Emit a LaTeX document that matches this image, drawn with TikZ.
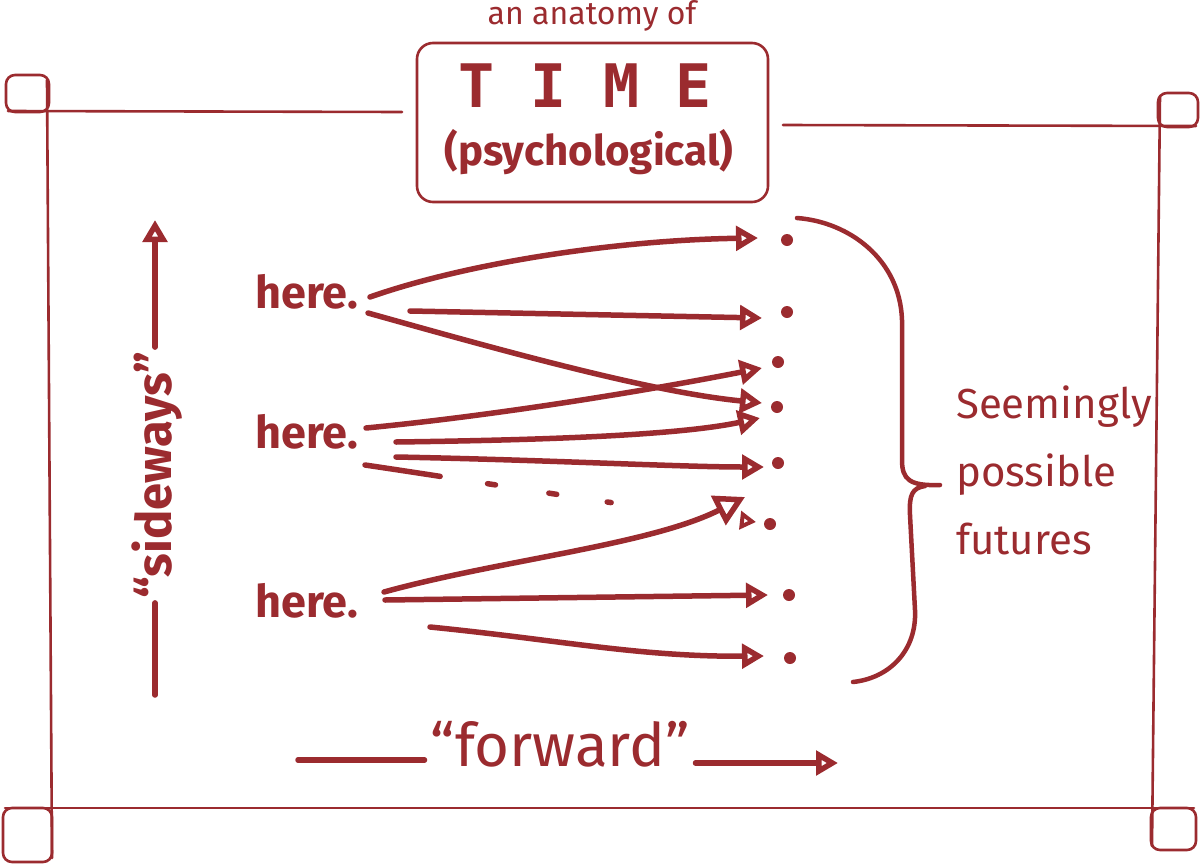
\documentclass[tikz,border=0pt]{standalone}
\usepackage{fontspec}
\setmainfont{Fira Sans}
\newfontfamily\markerfont{DejaVu Sans Mono}
\usetikzlibrary{arrows.meta}
\definecolor{ink}{HTML}{9B2B2F}
\tikzset{line/.style={ink, line width=5.5pt, line cap=round, line join=round}}
\tikzset{arr/.style={line, -{Triangle[open, length=22pt, width=24pt]}}}
\tikzset{border/.style={ink, line width=2.6pt, line cap=round}}
\tikzset{loopbox/.style={border, rounded corners=9pt}}
\tikzset{titlebox/.style={draw=ink, line width=2.6pt, rounded corners=16pt}}
\tikzset{here/.style={
   ink, anchor=base west, inner sep=0pt,
   font=\fontsize{45}{50}\selectfont\bfseries
}}
\tikzset{fut/.style={circle, fill=ink, inner sep=0pt, minimum size=12pt}}

\begin{document}
\begin{tikzpicture}[x=1pt, y=-1pt]
    \useasboundingbox (0,0) rectangle (1200,865);

    % frame with curled corners
    \draw[loopbox] (6,75) rectangle (49,112);
    \draw[loopbox] (1158,93) rectangle (1198,127);
    \draw[loopbox] (3,808) rectangle (52,862);
    \draw[loopbox] (1151,808) rectangle (1196,850);
    \draw[border] (47,80) -- (52,858);
    \draw[border] (8,111) -- (402,112);
    \draw[border] (783,125) -- (1196,126);
    \draw[border] (1160,96) -- (1152,846);
    \draw[border] (5,808) -- (1194,808);

    % title
    \node[ink, font=\fontsize{32}{36}\selectfont] (anat) at (592,16) {an anatomy of};
    \node[titlebox, minimum width=351pt, minimum height=159pt] (box) at (592.5,122.5) {};
    \node[ink, font=\markerfont\bfseries\fontsize{60}{60}\selectfont] (time) at (585,86) {T I M E};
    \node[ink, font=\fontsize{42}{46}\selectfont\bfseries] (psych) at (589,152) {(psychological)};

    % here
    \node[here] (here1) at (255,308) {here.};
    \node[here] (here2) at (255,448) {here.};
    \node[here] (here3) at (255,617) {here.};

    % futures
    \node[fut] (f1) at (787,240) {};
    \node[fut] (f2) at (787,312) {};
    \node[fut] (f3) at (778,362) {};
    \node[fut] (f4) at (777,407) {};
    \node[fut] (f5) at (778,463) {};
    \node[fut] (f6) at (770,524) {};
    \node[fut] (f7) at (789,595) {};
    \node[fut] (f8) at (790,658) {};

    \coordinate (a1) at (370,297);  \coordinate (b1) at (758,238);
    \coordinate (a2) at (410,311);  \coordinate (b2) at (762,318);
    \coordinate (a3) at (368,313);  \coordinate (b3) at (762,403);
    \coordinate (a4) at (366,428);  \coordinate (b4) at (762,368);
    \coordinate (a5) at (396,442);  \coordinate (b5) at (760,418);
    \coordinate (a6) at (396,457);  \coordinate (b6) at (764,467);
    \coordinate (a7) at (384,592);  \coordinate (b7) at (745,497);
    \coordinate (a8) at (385,600);  \coordinate (b8) at (768,595);
    \coordinate (a9) at (430,627);  \coordinate (b9) at (764,656);
    \coordinate (a0) at (365,465);  \coordinate (b0) at (756,522);

    \draw[arr] (a1) .. controls (470,262) and (620,240) .. (b1);
    \draw[arr] (a2) -- (b2);
    \draw[arr] (a3) .. controls (500,350) and (650,392) .. (b3);
    \draw[arr] (a4) .. controls (500,415) and (650,390) .. (b4);
    \draw[arr] (a5) .. controls (550,440) and (680,435) .. (b5);
    \draw[arr] (a6) .. controls (550,460) and (680,467) .. (b6);
    \draw[line, -{Triangle[open, length=30pt, width=32pt]}] (a7) .. controls (500,560) and (650,545) .. (b7);
    \draw[arr] (a8) -- (b8);
    \draw[arr] (a9) .. controls (560,640) and (640,657) .. (b9);
    \draw[arr, -{Triangle[open, length=16pt, width=18pt]},
        dash pattern=on 76pt off 48pt on 8pt off 54pt on 8pt off 51pt on 4pt off 300pt]
        (a0) .. controls (500,485) and (650,510) .. (b0);

    % brace
    \draw[line, line width=4.5pt] (797,218) .. controls (850,222) and (900,260) .. (902,320)
        -- (902,460) .. controls (902,480) and (910,486) .. (940,485);
    \draw[line, line width=4.5pt] (925,486) .. controls (912,488) and (909,495) .. (910,515)
        -- (915,610) .. controls (917,650) and (890,678) .. (853,682);
    \node[ink, font=\fontsize{42}{68}\selectfont, align=left, anchor=north west, inner sep=0pt]
        (seem) at (956,386) {Seemingly\\possible\\futures};

    % axes
    \node[ink, font=\fontsize{49}{50}\selectfont\bfseries, rotate=90, inner xsep=4pt] (side) at (157,475) {“sideways”};
    \coordinate (sidetop) at (155,220);
    \coordinate (sidebot) at (155,695);
    \draw[arr] (side.east -| sidetop) -- (sidetop);
    \draw[line] (side.west -| sidebot) -- (sidebot);

    \node[ink, font=\fontsize{60}{60}\selectfont, inner xsep=6pt] (fwd) at (560,744) {“forward”};
    \coordinate (fwdl) at (298,760);
    \coordinate (fwdr) at (838,763);
    \draw[line] (fwdl) -- (fwdl -| fwd.west);
    \draw[arr] (fwdr -| fwd.east) -- (fwdr);

\end{tikzpicture}
\end{document}
